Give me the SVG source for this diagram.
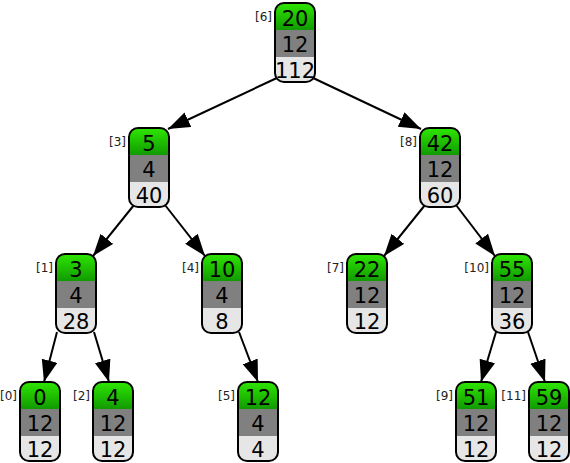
<svg xmlns="http://www.w3.org/2000/svg" width="570" height="463" viewBox="0 0 570 463">
<defs>
<linearGradient id="g" x1="0" y1="0" x2="0" y2="1">
<stop offset="0" stop-color="#2ee600"/>
<stop offset="1" stop-color="#119a00"/>
</linearGradient>
<marker id="ah" markerUnits="userSpaceOnUse" markerWidth="24" markerHeight="18" refX="22" refY="8" orient="auto">
<path d="M0,0 L22,8 L0,16 Z" fill="#000"/>
</marker>
<g id="box">
<path d="M0,27 V9 Q0,0 9,0 H31 Q40,0 40,9 V27 Z" fill="url(#g)"/>
<rect x="0" y="27" width="40" height="27" fill="#808080"/>
<path d="M0,54 H40 V70 Q40,79 31,79 H9 Q0,79 0,70 Z" fill="#e6e6e6"/>
<rect x="0" y="0" width="40" height="79" rx="9" ry="9" fill="none" stroke="#000" stroke-width="2"/>
</g>
</defs>
<style>
.v{font-family:"DejaVu Sans",Verdana,sans-serif;font-size:21px;fill:#000;text-anchor:middle}
.l{font-family:"DejaVu Sans",Verdana,sans-serif;font-size:12px;fill:#222;text-anchor:end}
.e{stroke:#000;stroke-width:2;fill:none;marker-end:url(#ah)}
</style>
<rect width="570" height="463" fill="#fff"/>
<g id="edges">
<line class="e" x1="279" y1="77" x2="168" y2="129"/>
<line class="e" x1="311" y1="77" x2="421" y2="129"/>
<line class="e" x1="134" y1="205" x2="93" y2="256"/>
<line class="e" x1="165" y1="205" x2="205" y2="256"/>
<line class="e" x1="425" y1="205" x2="384" y2="256"/>
<line class="e" x1="456" y1="205" x2="495" y2="256"/>
<line class="e" x1="57" y1="332" x2="44" y2="382"/>
<line class="e" x1="94" y1="332" x2="109" y2="382"/>
<line class="e" x1="239" y1="332" x2="258" y2="382"/>
<line class="e" x1="496" y1="332" x2="481" y2="382"/>
<line class="e" x1="528" y1="332" x2="545" y2="382"/>
</g>
<g id="n6" transform="translate(275,3)"><use href="#box"/><text class="l" x="-3" y="18">[6]</text><text class="v" x="20" y="23">20</text><text class="v" x="20" y="49">12</text><text class="v" x="20" y="75">112</text></g>
<g id="n3" transform="translate(129,128)"><use href="#box"/><text class="l" x="-3" y="18">[3]</text><text class="v" x="20" y="23">5</text><text class="v" x="20" y="49">4</text><text class="v" x="20" y="75">40</text></g>
<g id="n8" transform="translate(420,128)"><use href="#box"/><text class="l" x="-3" y="18">[8]</text><text class="v" x="20" y="23">42</text><text class="v" x="20" y="49">12</text><text class="v" x="20" y="75">60</text></g>
<g id="n1" transform="translate(56,254)"><use href="#box"/><text class="l" x="-3" y="18">[1]</text><text class="v" x="20" y="23">3</text><text class="v" x="20" y="49">4</text><text class="v" x="20" y="75">28</text></g>
<g id="n4" transform="translate(202,254)"><use href="#box"/><text class="l" x="-3" y="18">[4]</text><text class="v" x="20" y="23">10</text><text class="v" x="20" y="49">4</text><text class="v" x="20" y="75">8</text></g>
<g id="n7" transform="translate(347,254)"><use href="#box"/><text class="l" x="-3" y="18">[7]</text><text class="v" x="20" y="23">22</text><text class="v" x="20" y="49">12</text><text class="v" x="20" y="75">12</text></g>
<g id="n10" transform="translate(492,254)"><use href="#box"/><text class="l" x="-3" y="18">[10]</text><text class="v" x="20" y="23">55</text><text class="v" x="20" y="49">12</text><text class="v" x="20" y="75">36</text></g>
<g id="n0" transform="translate(20,382)"><use href="#box"/><text class="l" x="-3" y="18">[0]</text><text class="v" x="20" y="23">0</text><text class="v" x="20" y="49">12</text><text class="v" x="20" y="75">12</text></g>
<g id="n2" transform="translate(93,382)"><use href="#box"/><text class="l" x="-3" y="18">[2]</text><text class="v" x="20" y="23">4</text><text class="v" x="20" y="49">12</text><text class="v" x="20" y="75">12</text></g>
<g id="n5" transform="translate(238,382)"><use href="#box"/><text class="l" x="-3" y="18">[5]</text><text class="v" x="20" y="23">12</text><text class="v" x="20" y="49">4</text><text class="v" x="20" y="75">4</text></g>
<g id="n9" transform="translate(456,382)"><use href="#box"/><text class="l" x="-3" y="18">[9]</text><text class="v" x="20" y="23">51</text><text class="v" x="20" y="49">12</text><text class="v" x="20" y="75">12</text></g>
<g id="n11" transform="translate(529,382)"><use href="#box"/><text class="l" x="-3" y="18">[11]</text><text class="v" x="20" y="23">59</text><text class="v" x="20" y="49">12</text><text class="v" x="20" y="75">12</text></g>
</svg>
